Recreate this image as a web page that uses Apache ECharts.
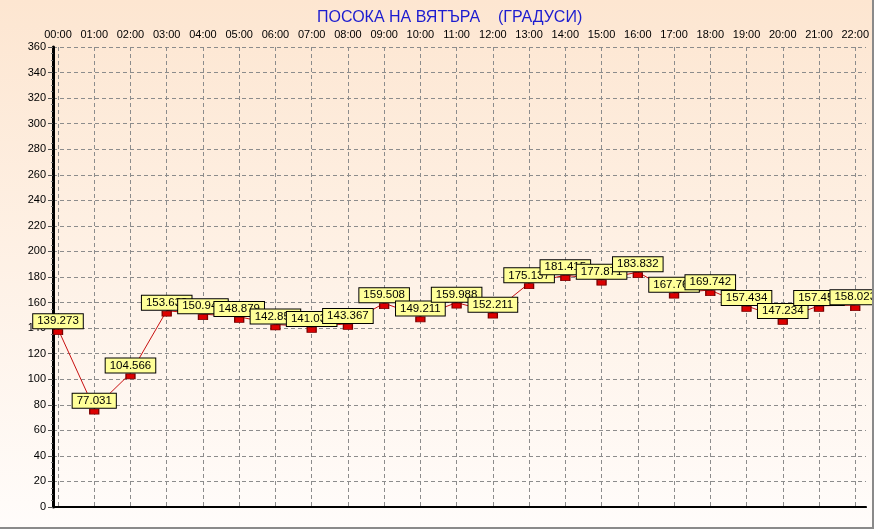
<!DOCTYPE html>
<html>
<head>
<meta charset="utf-8">
<script src="https://cdn.jsdelivr.net/npm/echarts@6/dist/echarts.min.js"></script>
<style>
  html, body { margin: 0; padding: 0; background: #fff; }
  #chart { width: 872px; height: 527px; border-right: 2px solid #8a8a8a; border-bottom: 2px solid #8a8a8a; }
</style>
</head>
<body>
<div id="chart"></div>
<script>
const titleText = 'ПОСОКА НА ВЯТЪРА    (ГРАДУСИ)'
const hours = ['00:00', '01:00', '02:00', '03:00', '04:00', '05:00', '06:00', '07:00',
  '08:00', '09:00', '10:00', '11:00', '12:00', '13:00', '14:00', '15:00',
  '16:00', '17:00', '18:00', '19:00', '20:00', '21:00', '22:00']
const direction = [139.273, 77.031, 104.566, 153.632, 150.944, 148.879, 142.853, 141.036,
  143.367, 159.508, 149.211, 159.988, 152.211, 175.137, 181.415, 177.871,
  183.832, 167.763, 169.742, 157.434, 147.234, 157.453, 158.023]
const yMin = 0
const yMax = 360
const yStep = 20

const chart = echarts.init(document.getElementById('chart'))
const font = 'Liberation Sans, Arial, sans-serif'

const option = {
  animation: false,
  backgroundColor: new echarts.graphic.LinearGradient(0, 0, 0, 1, [
    { offset: 0, color: '#fde6d1' },
    { offset: 1, color: '#fffcfa' }
  ]),
  title: {
    text: titleText,
    left: 312,
    top: 5,
    textStyle: { color: '#1c1cd0', fontSize: 16, fontWeight: 'normal', fontFamily: font }
  },
  grid: [
    { left: 53, right: 6, top: 47, bottom: 20 },
    { left: 58, right: 12, top: 47, bottom: 20 }
  ],
  xAxis: [
    {
      // frame top line
      gridIndex: 0, type: 'value', min: 0, max: 1, position: 'top',
      axisLine: { show: true, lineStyle: { color: '#000', width: 2 } },
      axisTick: { show: false }, axisLabel: { show: false }, splitLine: { show: false }
    },
    {
      // frame bottom line
      gridIndex: 0, type: 'value', min: 0, max: 1, position: 'bottom',
      axisLine: { show: true, lineStyle: { color: '#000', width: 1.2, type: [5, 2] } },
      axisTick: { show: false }, axisLabel: { show: false }, splitLine: { show: false }
    },
    {
      gridIndex: 1, type: 'category', data: hours, boundaryGap: false, position: 'top',
      axisLine: { show: false },
      axisTick: { show: false },
      axisLabel: { color: '#000', fontSize: 11, fontFamily: font, margin: 7, interval: 0 },
      splitLine: { show: true, lineStyle: { color: '#8c8c8c', type: [4, 3], width: 1 } }
    }
  ],
  yAxis: [
    {
      gridIndex: 0, type: 'value', min: yMin, max: yMax, interval: yStep, position: 'left',
      axisLine: { show: true, lineStyle: { color: '#000', width: 3 } },
      axisTick: { show: true, length: 5, lineStyle: { color: '#555' } },
      minorTick: { show: true, splitNumber: 4, length: 2, lineStyle: { color: '#777' } },
      axisLabel: { color: '#000', fontSize: 11, fontFamily: font, margin: 7 },
      splitLine: { show: true, lineStyle: { color: '#8c8c8c', type: [4, 3], width: 1 } }
    },
    {
      gridIndex: 0, type: 'value', min: yMin, max: yMax, position: 'right',
      axisLine: { show: true, lineStyle: { color: '#000', width: 1.5 } },
      axisTick: { show: false }, axisLabel: { show: false }, splitLine: { show: false }
    },
    {
      gridIndex: 1, type: 'value', min: yMin, max: yMax, show: false
    }
  ],
  series: [
    {
      type: 'line',
      xAxisIndex: 2,
      yAxisIndex: 2,
      data: direction,
      symbol: 'rect',
      symbolSize: [9, 5],
      symbolOffset: [0, 3],
      showAllSymbol: true,
      lineStyle: { color: '#c81010', width: 1 },
      itemStyle: { color: '#dd0000', borderColor: '#7a0000', borderWidth: 1 },
      label: {
        show: true,
        position: 'top',
        distance: 1,
        color: '#000',
        fontSize: 11.5,
        fontFamily: font,
        backgroundColor: '#ffff99',
        borderColor: '#000',
        borderWidth: 1,
        padding: [1, 4, 1, 4],
        formatter: p => p.value.toFixed(3)
      }
    }
  ]
}

chart.setOption(option)
window.addEventListener('resize', () => chart.resize())
</script>
</body>
</html>
